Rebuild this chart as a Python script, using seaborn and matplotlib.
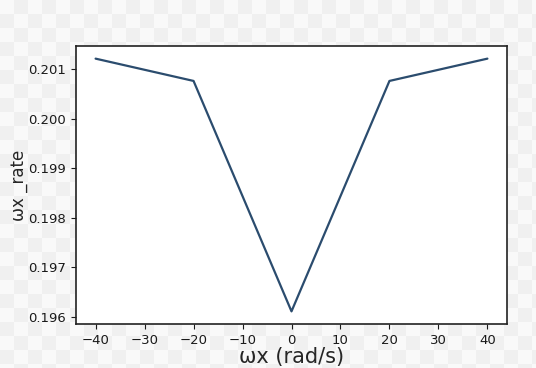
import numpy as np
import pandas as pd
import seaborn as sns
import matplotlib.pyplot as plt

# Values
wx = [-40, -20, 0, 20, 40]
wx_rate = [0.20121, 0.20076, 0.19611, 0.20076, 0.20121]

df = pd.DataFrame({"wx": wx, "rate": wx_rate})

sns.set_style("ticks")
plt.rcParams["font.family"] = ["DejaVu Sans"]

fig = plt.figure(figsize=(5.36, 3.68), dpi=100)

# checkerboard backdrop (transparent png look)
sq = 14
h, w = 368, 536
yy, xx = np.mgrid[0:h, 0:w]
board = np.where(((yy // sq) + (xx // sq)) % 2 == 0, 0.975, 0.94)
bg = fig.add_axes([0, 0, 1, 1], zorder=-1)
bg.imshow(board, cmap="gray", vmin=0, vmax=1, aspect="auto", interpolation="nearest")
bg.axis("off")

ax = fig.add_axes([76 / 536, 1 - 324 / 368, (507 - 76) / 536, (324 - 46) / 368], zorder=1)
ax.set_facecolor("white")
sns.lineplot(data=df, x="wx", y="rate", ax=ax, color="#2b4c6e", linewidth=1.6)

ax.set_xticks(range(-40, 41, 10))
ax.set_yticks([0.196, 0.197, 0.198, 0.199, 0.200, 0.201])
ax.set_yticklabels(["0.196", "0.197", "0.198", "0.199", "0.200", "0.201"])
ax.tick_params(labelsize=9.5, colors="#1a1a1a")
ax.set_xlabel("ωx (rad/s)", fontsize=15, labelpad=0)
ax.set_ylabel("ωx _rate", fontsize=12, labelpad=0)
for s in ax.spines.values():
    s.set_visible(True)
    s.set_color("#222222")
    s.set_linewidth(1.2)

fig.savefig("out.png", dpi=100)
plt.close(fig)
